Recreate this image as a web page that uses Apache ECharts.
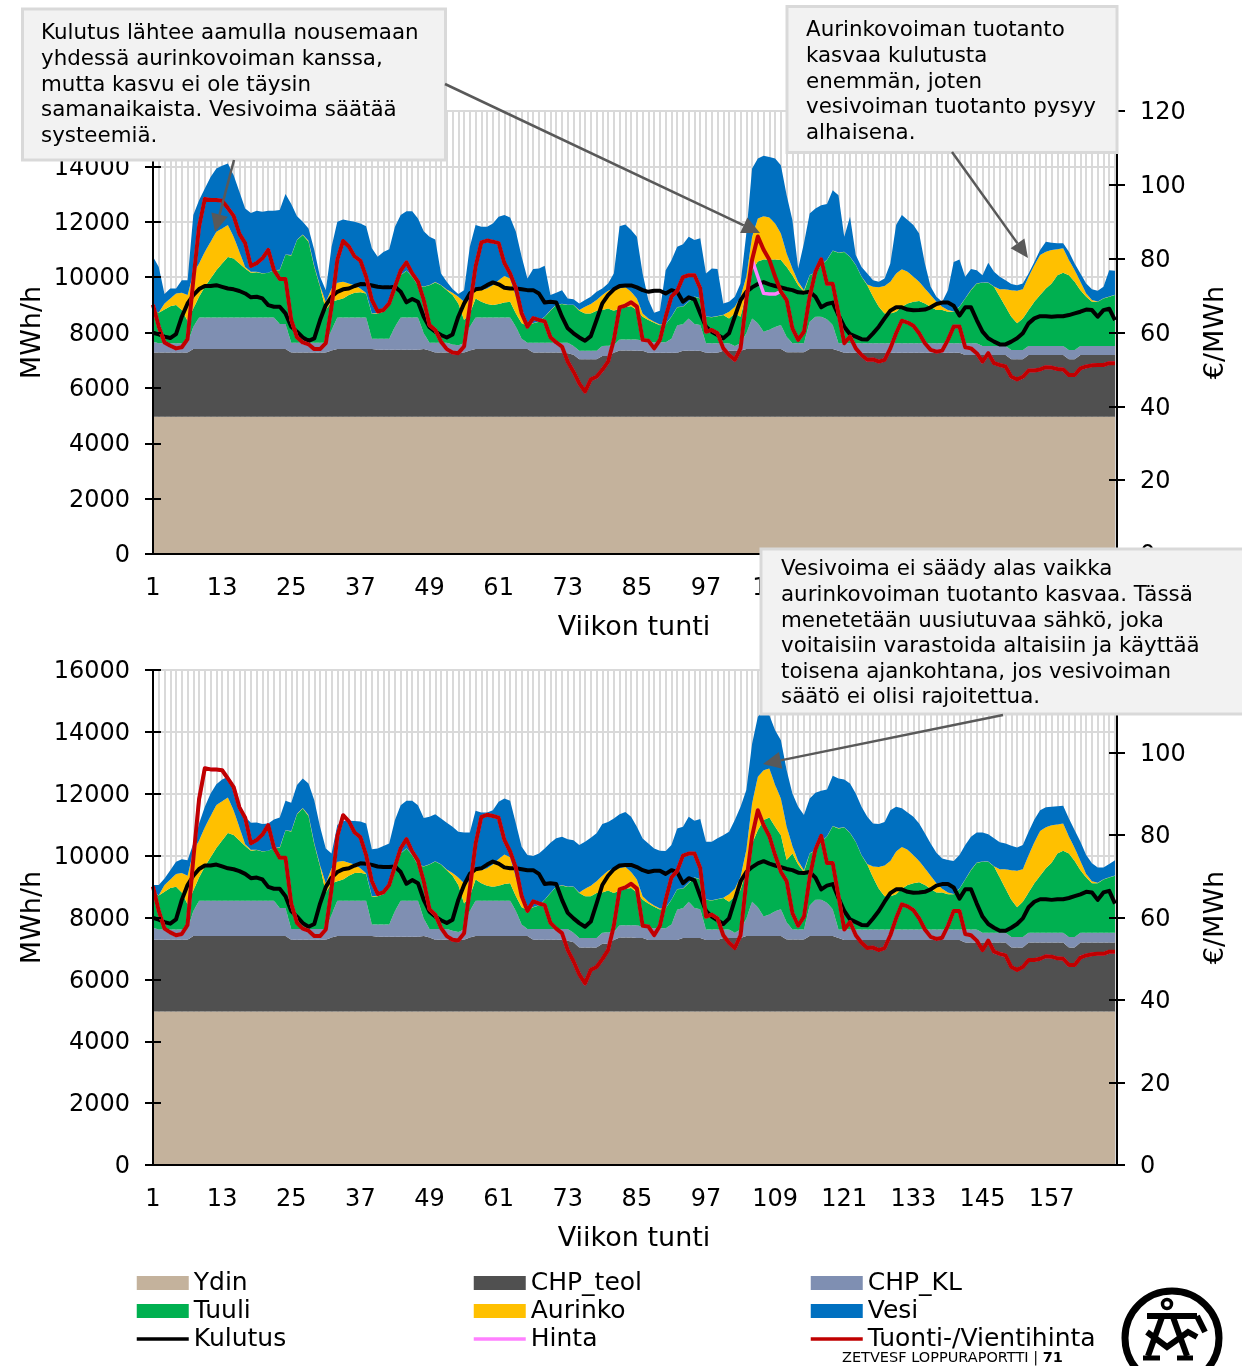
<!DOCTYPE html>
<html>
<head>
<meta charset="utf-8">
<title>Viikon tunti</title>
<style>
  html, body { margin: 0; padding: 0; background: #fff; }
  #chart { width: 1242px; height: 1366px; }
</style>
<script src="https://cdn.jsdelivr.net/npm/echarts@6/dist/echarts.min.js"></script>
</head>
<body>
<div id="chart"></div>
<script>
// tunnit 1..168, arvot luettu kuvasta (MWh/h kumulatiivisina pintoina, hinnat €/MWh)
const hours = ["1","2","3","4","5","6","7","8","9","10","11","12","13","14","15","16","17","18","19","20","21","22","23","24","25","26","27","28","29","30","31","32","33","34","35","36","37","38","39","40","41","42","43","44","45","46","47","48","49","50","51","52","53","54","55","56","57","58","59","60","61","62","63","64","65","66","67","68","69","70","71","72","73","74","75","76","77","78","79","80","81","82","83","84","85","86","87","88","89","90","91","92","93","94","95","96","97","98","99","100","101","102","103","104","105","106","107","108","109","110","111","112","113","114","115","116","117","118","119","120","121","122","123","124","125","126","127","128","129","130","131","132","133","134","135","136","137","138","139","140","141","142","143","144","145","146","147","148","149","150","151","152","153","154","155","156","157","158","159","160","161","162","163","164","165","166","167","168"];

const ydinTop = [4960,4960,4960,4960,4960,4960,4960,4960,4960,4960,4960,4960,4960,4960,4960,4960,4960,4960,4960,4960,4960,4960,4960,4960,4960,4960,4960,4960,4960,4960,4960,4960,4960,4960,4960,4960,4960,4960,4960,4960,4960,4960,4960,4960,4960,4960,4960,4960,4960,4960,4960,4960,4960,4960,4960,4960,4960,4960,4960,4960,4960,4960,4960,4960,4960,4960,4960,4960,4960,4960,4960,4960,4960,4960,4960,4960,4960,4960,4960,4960,4960,4960,4960,4960,4960,4960,4960,4960,4960,4960,4960,4960,4960,4960,4960,4960,4960,4960,4960,4960,4960,4960,4960,4960,4960,4960,4960,4960,4960,4960,4960,4960,4960,4960,4960,4960,4960,4960,4960,4960,4960,4960,4960,4960,4960,4960,4960,4960,4960,4960,4960,4960,4960,4960,4960,4960,4960,4960,4960,4960,4960,4960,4960,4960,4960,4960,4960,4960,4960,4960,4960,4960,4960,4960,4960,4960,4960,4960,4960,4960,4960,4960,4960,4960,4960,4960,4960,4960];

const chpTeolTop = [7280,7280,7280,7280,7280,7280,7280,7400,7400,7400,7400,7400,7400,7400,7400,7400,7400,7400,7400,7400,7400,7400,7400,7400,7280,7280,7280,7280,7280,7280,7280,7350,7400,7400,7400,7400,7400,7400,7400,7380,7380,7380,7380,7380,7380,7380,7380,7400,7350,7280,7280,7280,7280,7280,7280,7350,7400,7400,7400,7400,7400,7400,7400,7400,7400,7400,7280,7280,7280,7280,7280,7280,7250,7200,7030,7030,7030,7030,7150,7150,7270,7350,7350,7350,7340,7340,7270,7270,7270,7270,7270,7270,7340,7340,7340,7340,7270,7270,7270,7340,7340,7340,7340,7400,7400,7400,7400,7400,7400,7400,7290,7290,7290,7290,7400,7400,7400,7400,7400,7340,7270,7270,7270,7270,7270,7270,7270,7270,7270,7270,7270,7270,7270,7270,7270,7270,7270,7270,7270,7270,7270,7190,7190,7190,7190,7190,7190,7190,7190,7030,7030,7030,7190,7190,7190,7190,7190,7190,7190,7030,7030,7190,7190,7190,7190,7190,7190,7190];

const chpKlTop = [7670,7610,7610,7610,7610,7610,7610,8210,8545,8545,8545,8545,8545,8545,8545,8545,8545,8545,8545,8545,8545,8545,8305,8305,7630,7630,7630,7630,7630,7630,7630,8090,8545,8545,8545,8545,8545,8545,7775,7775,7775,7775,8210,8545,8545,8545,8545,7970,7630,7630,7630,7630,7570,7535,7610,8210,8545,8545,8545,8545,8545,8545,8545,8210,7775,7630,7630,7630,7630,7630,7630,7630,7630,7510,7340,7340,7340,7340,7510,7520,7535,7750,7750,7750,7750,7700,7650,7650,7650,7650,7775,8260,8300,8510,8305,8270,7610,7610,7610,7610,7610,7510,7610,7970,8510,8330,8030,8100,8200,8270,7850,7610,7610,7610,8390,8570,8570,8480,8270,7610,7610,7610,7610,7610,7610,7610,7610,7610,7610,7610,7610,7610,7610,7610,7610,7610,7610,7610,7610,7610,7610,7610,7610,7610,7510,7510,7510,7510,7510,7370,7370,7370,7510,7510,7510,7510,7510,7510,7510,7370,7370,7510,7510,7510,7510,7510,7510,7510];

const tuuliTop = [8810,8710,8830,8950,8990,8810,8425,8870,9290,9650,9950,10250,10490,10730,10670,10490,10310,10160,10180,10130,10160,10250,10250,10810,10780,11340,11520,11280,10370,9650,8810,9110,9170,9230,9350,9440,9450,9410,8670,8690,8750,9050,9650,10070,10230,10010,9700,9650,9710,9810,9710,9530,9350,9050,8450,8690,9230,9110,9030,8990,9030,9080,9110,8690,8330,8240,8330,8390,8570,8790,8990,9030,8990,8990,8790,8690,8690,8790,8810,8870,8790,8870,8930,8950,8810,8570,8450,8350,8260,8300,8570,8910,8930,9110,9290,9230,8570,8550,8590,8630,8510,8690,8570,9410,10250,10560,10640,10640,10640,10620,10370,10070,9710,9470,10070,10160,10440,10620,10950,10880,10910,10730,10440,10010,9710,9290,8930,8690,8690,8750,8930,9050,9110,9140,9050,8930,8810,8810,8750,8750,8930,9230,9530,9770,9800,9800,9650,9290,8930,8570,8330,8510,8810,9110,9350,9590,9770,10070,10160,10070,9830,9530,9290,9110,9110,9230,9290,9350];

const aurinkoTop = [8810,8720,9050,9230,9410,9440,9350,10130,10490,10920,11280,11640,11760,11880,11460,10920,10370,10190,10190,10140,10160,10250,10270,10820,10800,11350,11540,11310,10400,9690,9100,9590,9800,9830,9770,9710,9590,9430,8690,8700,8760,9060,9660,10080,10240,10020,9710,9660,9720,9820,9720,9550,9440,9290,9110,9170,9590,9530,9590,9710,9890,10040,9950,9290,8570,8300,8340,8400,8580,8800,9000,9040,9000,9000,8810,8930,9030,9170,9350,9510,9590,9590,9630,9470,9230,8690,8510,8390,8290,8310,8580,8920,8940,9120,9300,9240,8580,8560,8600,8640,8750,8930,9290,10010,11460,12120,12200,12150,11940,11580,10850,10310,9830,9530,10080,10170,10450,10630,10960,10890,10920,10740,10450,10020,9730,9650,9630,9680,9830,10130,10280,10190,10010,9830,9590,9350,9110,8930,8810,8760,8940,9240,9540,9780,9810,9810,9660,9560,9560,9530,9510,9560,10010,10430,10800,10920,10980,11010,11040,10620,10250,9830,9410,9170,9120,9240,9300,9360];

// alempi kuva: tuuli ja aurinko poikkeavat ylemmästä vain tunneilla 103-111
const tuuliAlempiErot = {103:8890,104:9530,105:10390,106:10820,107:11150,108:11230,109:10930,110:10660,111:9860};
const aurinkoAlempiErot = {103:9320,104:10180,105:11690,106:12550,107:12760,108:12820,109:12280,110:11850,111:10930};

const vesiTopYlempi = [10740,10370,9390,9590,9590,9890,9890,12240,12780,13200,13620,13920,14020,14100,13680,13080,12480,12320,12400,12360,12400,12400,12420,13000,12640,12200,12000,11760,10980,10010,9530,11100,12000,12080,12040,12000,11940,11840,11040,10740,10910,11010,11820,12240,12380,12380,12120,11660,11460,11360,10130,9830,9570,9390,9530,11100,11880,11820,11820,11940,12180,12240,12150,11640,10740,9950,10290,10310,10410,9350,9440,9530,9230,9200,9050,9170,9290,9470,9590,9770,10130,11840,11900,11700,11460,10130,9170,8710,8790,10250,10610,11100,11190,11460,11340,11400,10130,10310,10290,9050,9110,9290,9770,11580,13920,14280,14380,14340,14280,14040,12960,12060,10310,11220,12300,12480,12600,12640,13140,12960,11460,12180,10800,10370,10130,9890,9830,9950,10490,11880,12240,12060,11880,11580,10490,9650,9290,9110,9530,10550,10640,10010,10290,10250,10070,10520,10190,10010,9890,9750,9710,9770,10130,10550,10980,11280,11240,11220,11220,10920,10490,10130,9770,9560,9510,9650,10250,10230];

const vesiTopAlempi = [9050,9050,9260,9530,9800,9880,9850,10390,11040,11580,12010,12310,12460,12550,12170,11690,11260,11060,11070,11020,11040,11170,11230,11770,11710,12280,12490,12330,11790,10930,10230,10070,10990,11130,11130,11120,11100,11040,10210,10230,10310,10390,11150,11630,11770,11770,11630,11220,11260,11340,11200,11060,10930,10770,10750,10750,11450,11390,11390,11470,11740,11850,11770,11040,10290,10020,9990,10070,10230,10415,10560,10610,10530,10500,10340,10450,10580,10720,11020,11090,11200,11340,11410,11260,10930,10555,10390,10230,10160,10150,10340,10880,10930,11260,11130,11180,10450,10450,10560,10660,10770,11150,11580,12120,13620,14490,14700,14540,14050,13730,12760,12010,11580,11310,11850,12030,12100,12140,12580,12490,12460,12330,12010,11580,11260,11040,11020,11090,11470,11580,11530,11390,11260,11040,10720,10390,10090,9910,9855,9830,10020,10340,10610,10750,10750,10690,10560,10430,10390,10320,10260,10340,10770,11170,11470,11560,11580,11600,11610,11200,10820,10450,10020,9750,9620,9620,9730,9850];

const kulutus = [7990,7930,7850,7800,7940,8570,9050,9350,9570,9680,9680,9710,9650,9590,9560,9500,9410,9270,9290,9230,8990,8930,8930,8690,8210,8030,7820,7700,7790,8450,8990,9290,9470,9560,9590,9680,9750,9740,9700,9650,9630,9630,9650,9470,9090,9210,9110,8570,8190,8030,7910,7820,7930,8570,9050,9410,9560,9590,9710,9810,9740,9620,9590,9590,9560,9530,9530,9410,9080,9110,9080,8570,8150,7970,7820,7700,7870,8450,9050,9350,9560,9680,9700,9700,9630,9530,9470,9510,9510,9410,9530,9470,9110,9270,9200,8690,8210,8030,7910,7790,7970,8570,9170,9470,9630,9750,9820,9740,9680,9630,9570,9530,9450,9440,9470,9290,8910,9030,9080,8630,8210,7940,7850,7760,7750,7970,8210,8510,8790,8910,8910,8830,8800,8810,8830,8910,9030,9080,9080,8970,8610,8910,8910,8450,8030,7790,7670,7570,7570,7670,7790,7970,8330,8510,8590,8590,8570,8590,8590,8630,8690,8750,8830,8810,8570,8810,8860,8450];

const tuontiHinta = [67.5,61.6,57.3,56.4,55.7,56,58.2,74.2,88.7,96.2,95.9,95.9,95.7,93.7,91.6,86.7,84.2,78,78.8,80.1,82.4,76.9,74.5,74.5,63.4,58.7,57.3,56.8,55.5,55.5,57.1,67,79.7,84.8,83.3,80.6,79.5,75.1,68.8,65.7,66.1,67.9,72.4,76.8,79,76,73.8,68.8,62,60.7,57.5,55.5,54.6,54.4,56.2,67,77.9,84.4,84.9,84.6,84.2,78.8,76,72,65.2,61.6,63.9,63.4,63,58.7,57.3,56.2,52.1,49.4,46.2,44,47.3,48,49.9,52.1,58,66.8,67.3,68.2,67,58,57.8,55.7,58,64.3,69.7,71.3,75,75.5,75.5,72,60.2,60.7,59.8,55.7,53.9,52.6,55.7,68.8,79.7,86,82.4,79.7,75.1,71.1,68.8,61.1,58,60.2,69.7,76.5,79.8,73.2,73.2,65.2,57.1,58.9,55.7,53.9,52.6,52.7,52.1,52.6,55.7,59.8,63.2,62.7,61.8,59.8,57.1,55.3,54.8,55.1,58,61.6,61.6,56,55.7,54.4,52.1,54.4,51.7,51.2,50.8,48,47.3,48,49.7,49.7,50,50.6,50.5,50.1,50,48.5,48.5,50.3,50.8,51.1,51.2,51.2,51.7,51.7];

// Hinta seuraa tuontihintaa paitsi ylemmässä kuvassa tunneilla 106-110
const hintaErot = {106:75.1,107:70.6,108:70.4,109:70.4,110:71.1};

const leftTicks = { min: 0, max: 16000, interval: 2000 };
const rightTicks = { min: 0, max: 120, interval: 20 };

const fontFamily = "DejaVu Sans";
const legendColumns = [
  { left: 135, names: ["Ydin", "Tuuli", "Kulutus"] },
  { left: 472, names: ["CHP_teol", "Aurinko", "Hinta"] },
  { left: 809, names: ["CHP_KL", "Vesi", "Tuonti-/Vientihinta"] },
];
const lineNames = ["Kulutus", "Hinta", "Tuonti-/Vientihinta"];

const colors = {
  "Ydin": "#C4B29C",
  "CHP_teol": "#505050",
  "CHP_KL": "#7F8FB2",
  "Tuuli": "#00B050",
  "Aurinko": "#FFC000",
  "Vesi": "#0070C0",
  "Kulutus": "#000000",
  "Hinta": "#FF80FF",
  "Tuonti-/Vientihinta": "#C00000",
};

function withChanges(list, changes) {
  return list.map((v, i) => (changes[i + 1] !== undefined ? changes[i + 1] : v));
}

// pinnoista kerrospaksuudet pinottavaksi
function layer(top, below) {
  return top.map((v, i) => Math.max(0, v - (below ? below[i] : 0)));
}

function areaSeries(name, data, axis, stack) {
  return {
    name, type: "line", data, stack,
    xAxisIndex: axis * 2, yAxisIndex: axis * 5,
    symbol: "none", silent: true,
    lineStyle: { width: 0 },
    itemStyle: { color: colors[name] },
    areaStyle: { color: colors[name], opacity: 1 },
    z: 2,
  };
}

function lineSeries(name, data, axis, yIndex, width, z) {
  return {
    name, type: "line", data,
    xAxisIndex: axis * 2, yAxisIndex: axis * 5 + yIndex,
    symbol: "none", silent: true,
    lineStyle: { width, color: colors[name], join: "round" },
    itemStyle: { color: colors[name] },
    z,
  };
}

function chartSeries(axis, stack, tuuli, aurinko, vesi, hinta) {
  return [
    areaSeries("Ydin", layer(ydinTop), axis, stack),
    areaSeries("CHP_teol", layer(chpTeolTop, ydinTop), axis, stack),
    areaSeries("CHP_KL", layer(chpKlTop, chpTeolTop), axis, stack),
    areaSeries("Tuuli", layer(tuuli, chpKlTop), axis, stack),
    areaSeries("Aurinko", layer(aurinko, tuuli), axis, stack),
    areaSeries("Vesi", layer(vesi, aurinko), axis, stack),
    lineSeries("Kulutus", kulutus, axis, 0, 4, 3),
    lineSeries("Hinta", hinta, axis, 1, 3.5, 4),
    lineSeries("Tuonti-/Vientihinta", tuontiHinta, axis, 1, 4, 5),
  ];
}

// kullekin kuvalle: viivat ja tekstit sarjojen päällä (z 6), ruudukko alla (z 0)
function yAxes(gridIndex) {
  const text = {
    formatter: (v) => "{a|" + v + "}",
    rich: { a: { fontFamily, fontSize: 24, color: "#000", padding: [4, 0, 0, 0] } },
  };
  const line = { show: true, lineStyle: { color: "#000", width: 2 } };
  const tick = { show: true, length: 8, lineStyle: { color: "#000", width: 2 } };
  const hidden = { show: false };
  return [
    {
      type: "value", gridIndex, position: "left", z: 6, ...leftTicks,
      name: "MWh/h", nameLocation: "middle", nameGap: 107, nameRotate: 90, nameMoveOverlap: false,
      nameTextStyle: { fontFamily, fontSize: 27, color: "#000" },
      axisLine: line, axisTick: tick,
      axisLabel: { ...text, margin: 23 },
      splitLine: hidden,
    },
    {
      type: "value", gridIndex, position: "right", offset: 2, z: 6, ...rightTicks,
      name: "€/MWh", nameLocation: "middle", nameGap: 85, nameRotate: 90, nameMoveOverlap: false,
      nameTextStyle: { fontFamily, fontSize: 27, color: "#000" },
      axisLine: line, axisTick: tick,
      axisLabel: { ...text, margin: 23 },
      splitLine: hidden,
    },
    {
      type: "value", gridIndex, position: "left", z: 6, ...leftTicks,
      axisLine: hidden, axisLabel: hidden, splitLine: hidden,
      axisTick: { ...tick, inside: true },
    },
    {
      type: "value", gridIndex, position: "right", offset: 2, z: 6, ...rightTicks,
      axisLine: hidden, axisLabel: hidden, splitLine: hidden,
      axisTick: { ...tick, inside: true },
    },
    {
      type: "value", gridIndex, position: "left", z: 0, ...leftTicks,
      axisLine: hidden, axisLabel: hidden, axisTick: hidden,
      splitLine: { show: true, lineStyle: { color: "#D9D9D9", width: 2 } },
    },
  ];
}

function xAxes(gridIndex) {
  const hidden = { show: false };
  return [
    {
      type: "category", gridIndex, data: hours, boundaryGap: false, z: 6,
      name: "Viikon tunti", nameLocation: "middle", nameGap: 60,
      nameTextStyle: { fontFamily, fontSize: 27, color: "#000" },
      axisLine: { show: true, lineStyle: { color: "#000", width: 2 } },
      axisTick: hidden,
      axisLabel: { interval: 11, margin: 23, fontFamily, fontSize: 24, color: "#000" },
      splitLine: hidden,
    },
    {
      type: "category", gridIndex, data: hours, boundaryGap: false, z: 0,
      axisLine: hidden, axisTick: hidden, axisLabel: hidden,
      splitLine: { show: true, interval: 0, lineStyle: { color: "#D9D9D9", width: 2 } },
    },
  ];
}

function callout(left, top, width, height, textX, textY, lines) {
  return [
    {
      type: "rect", z: 100,
      shape: { x: left, y: top, width, height },
      style: { fill: "#F2F2F2", stroke: "#D9D9D9", lineWidth: 3 },
    },
    {
      type: "text", z: 101, x: textX, y: textY,
      style: {
        text: lines.join("\n"), fill: "#000",
        font: "21.4px " + fontFamily, lineHeight: 25.6, textAlign: "left", textVerticalAlign: "top",
      },
    },
  ];
}

function arrow(x1, y1, x2, y2) {
  const len = Math.hypot(x2 - x1, y2 - y1);
  const ux = (x2 - x1) / len;
  const uy = (y2 - y1) / len;
  const baseX = x2 - ux * 18;
  const baseY = y2 - uy * 18;
  return [
    {
      type: "line", z: 102,
      shape: { x1, y1, x2: baseX, y2: baseY },
      style: { stroke: "#595959", lineWidth: 2.5 },
    },
    {
      type: "polygon", z: 102,
      shape: { points: [[x2, y2], [baseX - uy * 8.5, baseY + ux * 8.5], [baseX + uy * 8.5, baseY - ux * 8.5]] },
      style: { fill: "#595959" },
    },
  ];
}

function logo() {
  const stroke = { stroke: "#000", fill: "none", lineWidth: 6 };
  const thin = { stroke: "#000", fill: "none", lineWidth: 5 };
  const bar = (points, style) => ({ type: "polyline", z: 50, shape: { points }, style: style || stroke });
  return [
    { type: "circle", z: 50, shape: { cx: 1172, cy: 1338, r: 47 }, style: { stroke: "#000", fill: "none", lineWidth: 7 } },
    { type: "circle", z: 50, shape: { cx: 1167, cy: 1304, r: 4.5 }, style: { stroke: "#000", fill: "none", lineWidth: 3.5 } },
    bar([[1147, 1316], [1197, 1316]]),
    bar([[1197, 1316], [1205, 1332]]),
    bar([[1162, 1317], [1148, 1356]]),
    bar([[1173, 1317], [1187, 1356]]),
    bar([[1147, 1332], [1167, 1347], [1188, 1332], [1197, 1337]]),
    bar([[1143, 1358], [1160, 1358]], thin),
    bar([[1177, 1358], [1193, 1358]], thin),
  ];
}

const graphicElements = [
  ...logo(),
  {
    type: "text", z: 60, x: 842, y: 1351,
    style: {
      rich: {
        a: { font: "14.5px " + fontFamily, fill: "#000" },
        b: { font: "bold 14.5px " + fontFamily, fill: "#000" },
      },
      text: "{a|ZETVESF LOPPURAPORTTI | }{b|71}",
    },
  },
  ...callout(22.5, 9, 423, 151, 41, 21, [
    "Kulutus lähtee aamulla nousemaan",
    "yhdessä aurinkovoiman kanssa,",
    "mutta kasvu ei ole täysin",
    "samanaikaista. Vesivoima säätää",
    "systeemiä.",
  ]),
  ...callout(787, 6.5, 330, 146, 806, 18, [
    "Aurinkovoiman tuotanto",
    "kasvaa kulutusta",
    "enemmän, joten",
    "vesivoiman tuotanto pysyy",
    "alhaisena.",
  ]),
  ...callout(761, 549, 490, 165, 781, 557, [
    "Vesivoima ei säädy alas vaikka",
    "aurinkovoiman tuotanto kasvaa. Tässä",
    "menetetään uusiutuvaa sähkö, joka",
    "voitaisiin varastoida altaisiin ja käyttää",
    "toisena ajankohtana, jos vesivoiman",
    "säätö ei olisi rajoitettua.",
  ]),
  ...arrow(234, 160, 215, 232),
  ...arrow(445, 84, 760, 233),
  ...arrow(952, 152, 1028, 258),
  ...arrow(1003, 715, 763, 764),
];

const chart = echarts.init(document.getElementById("chart"), null, { renderer: "canvas" });
chart.setOption({
  animation: false,
  backgroundColor: "#fff",
  textStyle: { fontFamily },
  grid: [
    { left: 153, top: 111, width: 962, height: 443, outerBoundsMode: "none" },
    { left: 153, top: 670, width: 962, height: 495, outerBoundsMode: "none" },
  ],
  xAxis: [...xAxes(0), ...xAxes(1)],
  yAxis: [...yAxes(0), ...yAxes(1)],
  legend: legendColumns.map((col) => ({
    left: col.left, top: 1269, orient: "vertical",
    itemWidth: 52, itemHeight: 14, itemGap: 0,
    selectedMode: false, padding: 0,
    textStyle: { fontFamily, fontSize: 25, color: "#000", padding: [0, 0, 0, 0], lineHeight: 28 },
    data: col.names.map((name) => (lineNames.includes(name)
      ? { name, itemStyle: { opacity: 0 }, lineStyle: { width: 3.5 } }
      : { name, icon: "rect" })),
  })),
  graphic: { elements: graphicElements },
  series: [
    ...chartSeries(0, "ylempi", tuuliTop, aurinkoTop, vesiTopYlempi, withChanges(tuontiHinta, hintaErot)),
    ...chartSeries(1, "alempi", withChanges(tuuliTop, tuuliAlempiErot), withChanges(aurinkoTop, aurinkoAlempiErot), vesiTopAlempi, tuontiHinta),
  ],
});
</script>
</body>
</html>
